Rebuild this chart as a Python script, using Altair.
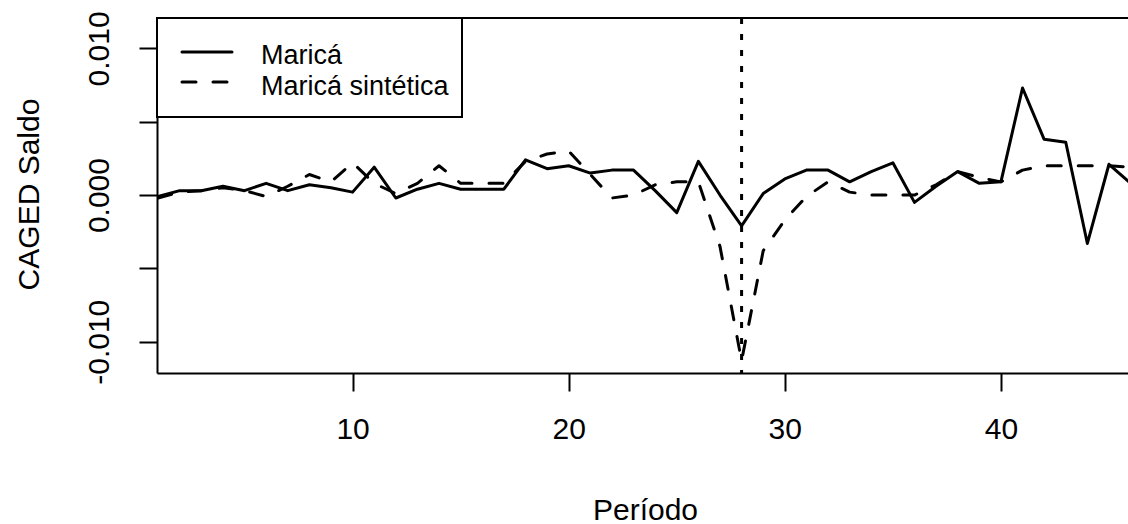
import altair as alt
import pandas as pd

# Monthly net employment balance (CAGED) for Maricá and its synthetic control
periodo = list(range(1, 47))
marica = [-0.0001, 0.0003, 0.0003, 0.0006, 0.0003, 0.0008, 0.0003, 0.0007, 0.0005, 0.0002,
          0.0019, -0.0002, 0.0004, 0.0008, 0.0004, 0.0004, 0.0004, 0.0024, 0.0018, 0.0020,
          0.0015, 0.0017, 0.0017, 0.0003, -0.0012, 0.0023, 0.0000, -0.0021, 0.0001, 0.0011,
          0.0017, 0.0017, 0.0009, 0.0016, 0.0022, -0.0005, 0.0006, 0.0016, 0.0008, 0.0009,
          0.0073, 0.0038, 0.0036, -0.0033, 0.0021, 0.0008]
marica_sintetica = [-0.0002, 0.0002, 0.0003, 0.0005, 0.0003, -0.0001, 0.0006, 0.0014, 0.0009, 0.0022,
                    0.0008, 0.0001, 0.0008, 0.0020, 0.0008, 0.0008, 0.0008, 0.0023, 0.0028, 0.0030,
                    0.0014, -0.0002, 0.0000, 0.0007, 0.0009, 0.0009, -0.0035, -0.0113, -0.0038, -0.0017,
                    -0.0001, 0.0009, 0.0002, 0.0000, 0.0000, 0.0000, 0.0007, 0.0016, 0.0012, 0.0009,
                    0.0017, 0.0020, 0.0020, 0.0020, 0.0020, 0.0019]
periodo_intervencao = [28]
series = ["Maricá", "Maricá sintética"]
x_ticks = [10, 20, 30, 40]
y_ticks = [-0.01, -0.005, 0.0, 0.005, 0.01]

W, H = 971, 355
FONT = "Liberation Sans"
DASH = [14, 17]
LW = 3

df_real = pd.DataFrame({"Período": periodo, "valor": marica})
df_sint = pd.DataFrame({"Período": periodo, "valor": marica_sintetica})
df_vline = pd.DataFrame({"Período": periodo_intervencao})
df_leg = pd.DataFrame({"serie": series})

x_scale = alt.Scale(domain=[0.95, 45.88], nice=False, zero=False)
y_scale = alt.Scale(domain=[-0.01213, 0.01207], nice=False, zero=False)

x_axis = alt.Axis(
    values=x_ticks, format="d", title="Período",
    labelBaseline="top", labelPadding=23, labelOverlap=False,
    titleX=488, titleY=146, titleAlign="center", titleBaseline="alphabetic",
)
y_axis = alt.Axis(
    values=y_ticks, title="CAGED Saldo",
    labelExpr="abs(abs(datum.value) - 0.005) < 1e-9 ? '' : "
              "(datum.value < 0 ? '-' : '') + format(abs(datum.value), '.3f')",
    labelAngle=270, labelAlign="center", labelBaseline="alphabetic",
    labelPadding=31, labelOverlap=False,
    titleAngle=270, titleX=-119, titleY=176, titleAlign="center", titleBaseline="alphabetic",
)

real = alt.Chart(df_real).mark_line(
    color="black", strokeWidth=LW, strokeJoin="round", strokeCap="round", clip=True
).encode(
    x=alt.X("Período:Q", scale=x_scale, axis=x_axis),
    y=alt.Y("valor:Q", scale=y_scale, axis=y_axis),
)

sint = alt.Chart(df_sint).mark_line(
    color="black", strokeWidth=LW, strokeJoin="round", strokeCap="round",
    strokeDash=DASH, clip=True
).encode(
    x=alt.X("Período:Q", scale=x_scale),
    y=alt.Y("valor:Q", scale=y_scale),
)

vline = alt.Chart(df_vline).mark_rule(
    color="black", strokeWidth=3, strokeDash=[6, 10]
).encode(x=alt.X("Período:Q", scale=x_scale))

# top edge of the plot frame
top_edge = alt.Chart(df_vline).mark_rule(color="black", strokeWidth=2).encode(
    x=alt.value(0), x2=alt.value(W), y=alt.value(0)
)

# legend box in the upper-left corner
leg_box = alt.Chart(df_vline).mark_rect(
    fill="white", stroke="black", strokeWidth=2
).encode(x=alt.value(0), x2=alt.value(305), y=alt.value(0), y2=alt.value(99))

leg_solid = alt.Chart(df_vline).mark_rule(
    color="black", strokeWidth=LW, strokeCap="round"
).encode(x=alt.value(25), x2=alt.value(75), y=alt.value(34))

leg_dash = alt.Chart(df_vline).mark_rule(
    color="black", strokeWidth=LW, strokeCap="round", strokeDash=DASH
).encode(x=alt.value(25), x2=alt.value(75), y=alt.value(64))

leg_text1 = alt.Chart(df_leg).transform_filter(
    alt.datum.serie == series[0]
).mark_text(
    align="left", baseline="alphabetic", font=FONT, fontSize=27, color="black"
).encode(x=alt.value(104), y=alt.value(45.5), text="serie:N")

leg_text2 = alt.Chart(df_leg).transform_filter(
    alt.datum.serie == series[1]
).mark_text(
    align="left", baseline="alphabetic", font=FONT, fontSize=27, color="black"
).encode(x=alt.value(104), y=alt.value(77), text="serie:N")

chart = alt.layer(
    real, sint, vline, top_edge, leg_box, leg_solid, leg_dash, leg_text1, leg_text2
).properties(
    width=W, height=H,
    autosize=alt.AutoSizeParams(type="none"),
    padding={"left": 157, "top": 18, "right": 0, "bottom": 151},
).configure_view(
    stroke=None
).configure_axis(
    grid=False,
    domainColor="black", domainWidth=2,
    tickColor="black", tickWidth=2, tickSize=18,
    labelColor="black", labelFont=FONT, labelFontSize=30,
    titleColor="black", titleFont=FONT, titleFontSize=30, titleFontWeight="normal",
)

chart.save("out.html", embed_options={"renderer": "svg", "actions": False})
